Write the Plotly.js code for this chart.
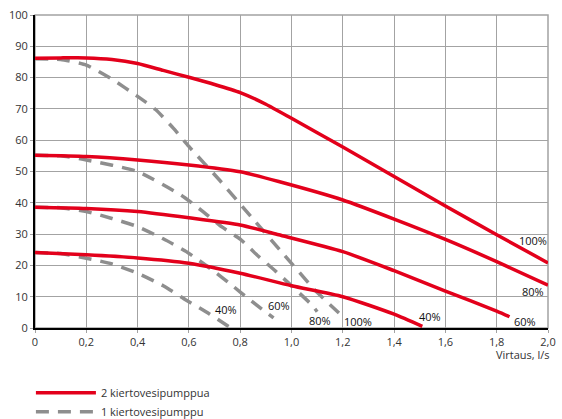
<!DOCTYPE html>
<html>
<head>
<meta charset="utf-8">
<script src="https://cdn.plot.ly/plotly-3.0.1.min.js"></script>
<style>html,body{margin:0;padding:0;background:#fff;}#chart{width:562px;height:419px;}</style>
</head>
<body>
<div id="chart"></div>
<script>
// Two pumps (red solid)
var red100x = [0, 0.1, 0.2, 0.3, 0.4, 0.5, 0.6, 0.7, 0.8, 0.9, 1.0, 1.2, 1.4, 1.6, 1.8, 2.0];
var red100y = [86.2, 86.3, 86.3, 85.8, 84.5, 82.3, 80.1, 77.8, 75.2, 71.5, 67.0, 57.8, 48.4, 39.0, 29.8, 20.8];
var red80x = [0, 0.2, 0.4, 0.6, 0.8, 0.95, 1.2, 1.4, 1.6, 1.8, 2.0];
var red80y = [55.2, 54.8, 53.7, 52.1, 49.9, 46.8, 40.9, 34.8, 28.3, 21.2, 13.7];
var red60x = [0, 0.2, 0.4, 0.6, 0.8, 0.95, 1.2, 1.4, 1.6, 1.8, 1.85];
var red60y = [38.6, 38.2, 37.2, 35.2, 32.9, 29.8, 24.4, 18.3, 11.8, 5.4, 3.6];
var red40x = [0, 0.2, 0.4, 0.6, 0.8, 1.0, 1.2, 1.4, 1.51];
var red40y = [24.1, 23.4, 22.4, 20.7, 17.5, 13.5, 10.0, 4.4, 0.5];
// One pump (grey dashed)
var gray100x = [0, 0.1, 0.2, 0.3, 0.4, 0.47, 0.54, 0.6, 0.72, 0.845, 0.97, 1.095, 1.185];
var gray100y = [86.0, 85.8, 84.0, 79.5, 74.0, 69.8, 63.8, 58.0, 47.2, 35.3, 23.5, 11.8, 4.8];
var gray80x = [0, 0.1, 0.2, 0.4, 0.57, 0.65, 0.73, 0.8, 0.87, 0.94, 1.08, 1.10];
var gray80y = [55.2, 55.0, 53.7, 50.0, 42.4, 37.5, 32.2, 28.4, 23.0, 18.0, 7.3, 5.2];
var gray60x = [0, 0.1, 0.2, 0.3, 0.4, 0.5, 0.59, 0.7, 0.77, 0.83, 0.93];
var gray60y = [38.6, 38.4, 37.2, 35.0, 32.4, 28.5, 24.4, 18.0, 13.5, 9.5, 3.2];
var gray40x = [0, 0.1, 0.2, 0.3, 0.4, 0.5, 0.59, 0.68, 0.76];
var gray40y = [24.1, 23.8, 22.3, 20.5, 17.5, 13.5, 8.9, 4.5, 0.2];

var xTicks = [0, 0.2, 0.4, 0.6, 0.8, 1.0, 1.2, 1.4, 1.6, 1.8, 2.0];
var xTickText = ["0", "0,2", "0,4", "0,6", "0,8", "1,0", "1,2", "1,4", "1,6", "1,8", "2,0"];
var yTicks = [0, 10, 20, 30, 40, 50, 60, 70, 80, 90, 100];

var legendNames = ["2 kiertovesipumppua", "1 kiertovesipumppu"];
var redLabels = ["100%", "80%", "60%", "40%"];
var grayLabels = ["100%", "80%", "60%", "40%"];
var redLabelPos = [[1.94, 27.8], [1.94, 11.6], [1.91, 2.0], [1.54, 3.8]];
var grayLabelPos = [[1.26, 2.0], [1.11, 2.5], [0.95, 7.3], [0.743, 5.8]];

var RED = "#e3001b", GRAY = "#8e8e8e";
function redTrace(x, y, show) {
  return {x: x, y: y, type: "scatter", mode: "lines", name: legendNames[0], showlegend: show,
    line: {color: RED, width: 3.5, shape: "spline", smoothing: 0.6}, hoverinfo: "skip"};
}
function grayTrace(x, y, show) {
  return {x: x, y: y, type: "scatter", mode: "lines", name: legendNames[1], showlegend: show,
    line: {color: GRAY, width: 3.5, dash: "13px,9px", shape: "spline", smoothing: 0.5}, hoverinfo: "skip"};
}
var data = [
  grayTrace(gray100x, gray100y, false), grayTrace(gray80x, gray80y, false),
  grayTrace(gray60x, gray60y, false), grayTrace(gray40x, gray40y, true),
  redTrace(red100x, red100y, true), redTrace(red80x, red80y, false),
  redTrace(red60x, red60y, false), redTrace(red40x, red40y, false)
];

var annotations = [];
redLabels.forEach(function(t, i) {
  annotations.push({x: redLabelPos[i][0], y: redLabelPos[i][1], text: t, showarrow: false,
    font: {size: 11, color: "#111"}, xanchor: "center", yanchor: "middle"});
});
grayLabels.forEach(function(t, i) {
  annotations.push({x: grayLabelPos[i][0], y: grayLabelPos[i][1], text: t, showarrow: false,
    font: {size: 11, color: "#111"}, xanchor: "center", yanchor: "middle"});
});
annotations.push({xref: "paper", yref: "paper", x: 1.008, y: -0.055, text: "Virtaus, l/s", showarrow: false,
  xanchor: "right", yanchor: "top", font: {size: 11, color: "#333"}});

var layout = {
  width: 562, height: 419,
  margin: {l: 35, r: 14, t: 15, b: 91, pad: 0, autoexpand: false},
  paper_bgcolor: "#fff", plot_bgcolor: "#fff",
  font: {family: "Open Sans, Noto Sans, sans-serif", size: 11, color: "#333"},
  xaxis: {range: [0, 2.0], tickvals: xTicks, ticktext: xTickText, showgrid: true, gridcolor: "#a3a3a3", gridwidth: 1,
    zeroline: false, showline: true, linecolor: "#000", linewidth: 2, ticks: "outside", ticklen: 3, tickcolor: "#a3a3a3",
    tickfont: {size: 11, color: "#333"}, fixedrange: true, automargin: false},
  yaxis: {range: [0, 100], tickvals: yTicks, showgrid: true, gridcolor: "#a3a3a3", gridwidth: 1,
    zeroline: false, showline: true, linecolor: "#000", linewidth: 2, ticks: "outside", ticklen: 3, tickcolor: "#a3a3a3",
    tickfont: {size: 11, color: "#333"}, fixedrange: true, automargin: false},
  shapes: [{type: "rect", xref: "paper", yref: "paper", x0: 0, x1: 1, y0: 0, y1: 1,
    line: {color: "#a3a3a3", width: 1.5}, layer: "below"}],
  showlegend: true,
  legend: {x: 0.055, xref: "container", xanchor: "left", y: 0.097, yref: "container", yanchor: "top", orientation: "v", traceorder: "reversed",
    bgcolor: "rgba(0,0,0,0)", itemwidth: 60, font: {size: 11, color: "#333"}, tracegroupgap: 0},
  annotations: annotations
};
Plotly.newPlot("chart", data, layout, {displayModeBar: false, staticPlot: true});
</script>
</body>
</html>
